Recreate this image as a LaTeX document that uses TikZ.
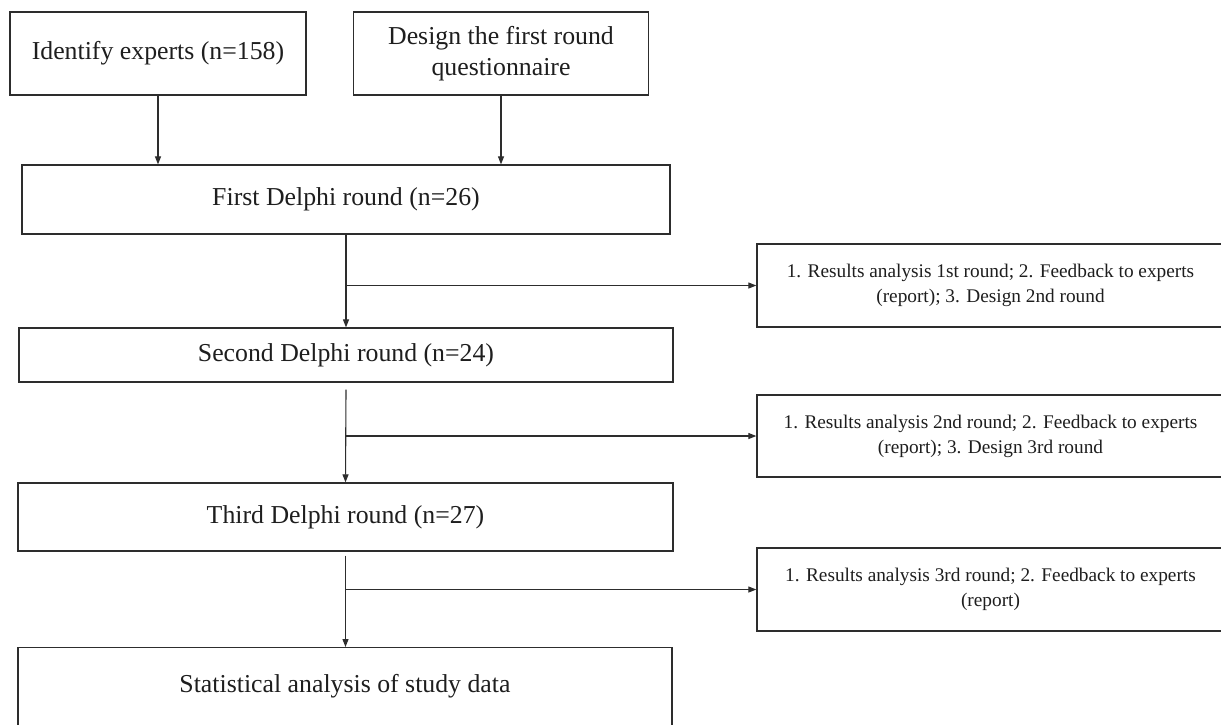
\documentclass[tikz,border=0pt]{standalone}
\usepackage{fontspec}
\setmainfont{Liberation Serif}
\usetikzlibrary{arrows.meta}
\definecolor{linec}{RGB}{45,45,45}
\definecolor{textc}{RGB}{30,30,30}
\tikzset{
  boxa/.style={draw=linec, line width=1.3pt, rectangle, inner sep=0pt, align=center, text=textc,
    font=\fontsize{25.8}{31}\selectfont},
  boxb/.style={draw=linec, line width=1.3pt, rectangle, inner sep=0pt, align=center, text=textc,
    font=\fontsize{19.3}{25}\selectfont, minimum width=467pt, minimum height=83pt},
  conn/.style={draw=linec, line width=1.1pt},
  arr/.style={conn, -{Triangle[length=8pt,width=6pt]}}
}
\begin{document}
\begin{tikzpicture}[x=1pt,y=-1pt]
\useasboundingbox (0,0) rectangle (1221,724);
\clip (0,0) rectangle (1221,724);
\fill[white] (0,0) rectangle (1221,724);
% top boxes
\node[boxa, minimum width=296pt, minimum height=83pt] (id) at (158,53.5) {Identify experts (n=158)};
\node[boxa, minimum width=295pt, minimum height=83pt] (ds) at (501,53.5) {Design the first round\\questionnaire};
% round boxes
\node[boxa, minimum width=648pt, minimum height=69pt] (r1) at (346,199.5) {First Delphi round (n=26)};
\node[boxa, minimum width=654pt, minimum height=54pt] (r2) at (346,355) {Second Delphi round (n=24)};
\node[boxa, minimum width=655pt, minimum height=68pt] (r3) at (345.5,517) {Third Delphi round (n=27)};
\node[boxa, minimum width=654pt, text height=44.5pt, text depth=48pt, anchor=north] (r4) at (345,647) {Statistical analysis of study data};
% feedback boxes
\node[boxb] (f1) at (990.5,285.5) {1. Results analysis 1st round; 2. Feedback to experts\\(report); 3. Design 2nd round};
\node[boxb, minimum height=82pt] (f2) at (990.5,436) {1. Results analysis 2nd round; 2. Feedback to experts\\(report); 3. Design 3rd round};
\node[boxb] (f3) at (990.5,589.5) {1. Results analysis 3rd round; 2. Feedback to experts\\(report)};
% connectors
\draw[arr] (id.south) -- (id.south |- r1.north);
\draw[arr] (ds.south) -- (ds.south |- r1.north);
\draw[arr] (r1.south) -- (r2.north);
\coordinate (j1) at (r1.south |- f1.west);
\draw[arr] (j1) -- (f1.west);
\coordinate (s2) at ([yshift=-7pt]r2.south);
\draw[arr] (s2) -- (r3.north);
\coordinate (j2) at (r2.south |- f2.west);
\draw[arr] (j2) -- (f2.west);
\coordinate (s3) at ([yshift=-4pt]r3.south);
\draw[arr] (s3) -- (s3 |- r4.north);
\coordinate (j3) at (r3.south |- f3.west);
\draw[arr] (j3) -- (f3.west);
\end{tikzpicture}
\end{document}
